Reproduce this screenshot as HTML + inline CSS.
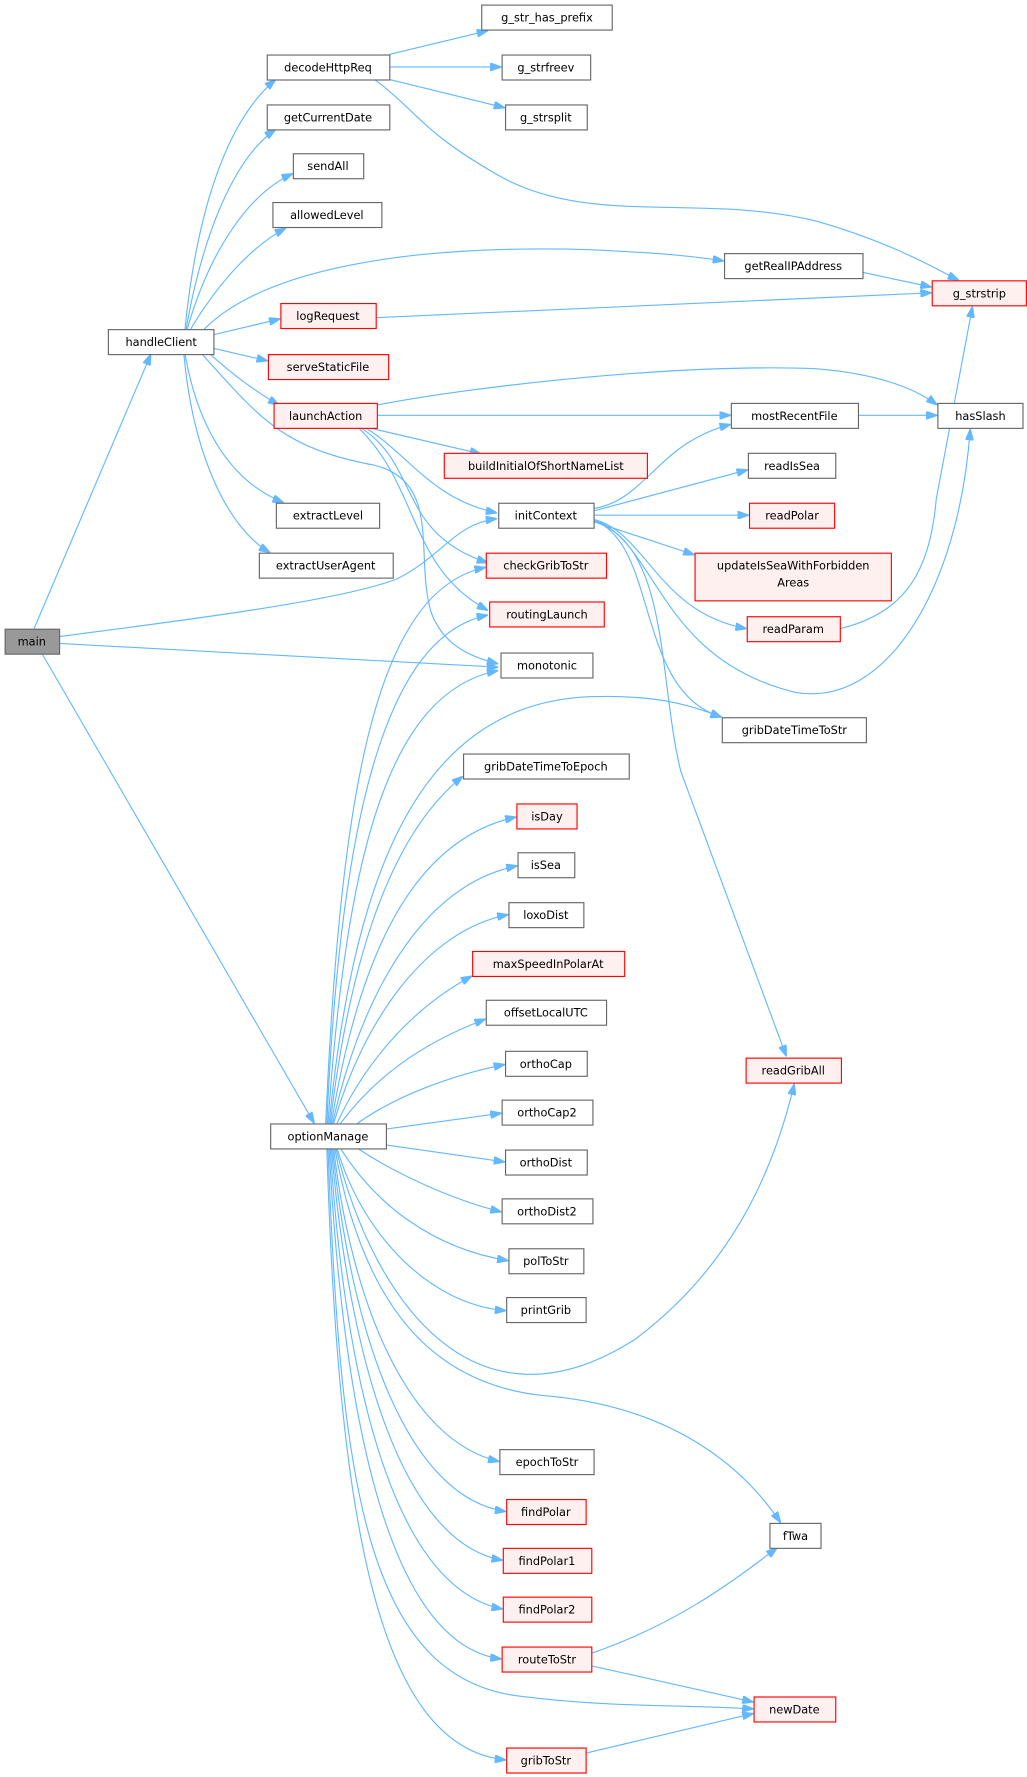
<!DOCTYPE html>
<html><head><meta charset="utf-8"><style>
html,body{margin:0;padding:0;background:#fff;}
svg{display:block;}
text{font-family:"DejaVu Sans","Liberation Sans",sans-serif;font-size:10px;fill:#000;text-anchor:middle;}
.n{fill:#fff;stroke:#666;stroke-width:1;}
.r{fill:#fff0f0;stroke:#ff0000;stroke-width:1;}
.m{fill:#999;stroke:#666;stroke-width:1;}
path.e{fill:none;stroke:#63b8ff;stroke-width:1;marker-end:url(#a);}
</style></head><body>
<svg width="1027" height="1777" viewBox="0 0 905 1566" xmlns="http://www.w3.org/2000/svg">
<defs><marker id="a" markerUnits="userSpaceOnUse" viewBox="0 0 10 7" refX="10" refY="3.5" markerWidth="10" markerHeight="7" orient="auto"><path d="M0,0 L10,3.5 L0,7 z" fill="#63b8ff" stroke="#63b8ff"/></marker></defs>

<!-- edges -->
<path class="e" d="M30,554 L133,312"/>
<path class="e" d="M52,561 C150,548 300,530 350,510 C390,490 400,462 438,457"/>
<path class="e" d="M52,567 L439,588"/>
<path class="e" d="M37,576 L277,990"/>

<path class="e" d="M163,290 C172,200 195,110 243,70"/>
<path class="e" d="M164,290 C178,210 205,140 243,114"/>
<path class="e" d="M165,290 C185,220 220,170 258,153"/>
<path class="e" d="M168,290 C195,245 225,215 252,201"/>
<path class="e" d="M180,290 C230,240 350,215 520,220 C560,222 600,224 638,230"/>
<path class="e" d="M188,295 L247,281"/>
<path class="e" d="M188,307 L236,318"/>
<path class="e" d="M185,312 C205,330 225,345 246,357"/>
<path class="e" d="M163,312 C175,380 205,425 250,443"/>
<path class="e" d="M162,312 C170,400 200,465 238,487"/>
<path class="e" d="M178,312 C230,370 250,395 330,410 C390,425 365,490 380,540 C392,572 420,580 439,585"/>

<path class="e" d="M332,357 C420,340 600,320 720,325 C780,330 810,345 826,357"/>
<path class="e" d="M332,366 L644,366"/>
<path class="e" d="M325,377 L424,400"/>
<path class="e" d="M322,377 C360,400 380,440 438,452"/>
<path class="e" d="M318,377 C370,410 350,470 430,496"/>
<path class="e" d="M316,377 C370,430 360,500 430,538"/>

<path class="e" d="M343,48 L430,27"/>
<path class="e" d="M343,59 L442,59"/>
<path class="e" d="M343,70 L445,95"/>
<path class="e" d="M330,70 C370,100 370,115 440,155 C520,200 620,170 720,195 C790,215 830,240 845,247"/>
<path class="e" d="M331,280 L821,258"/>
<path class="e" d="M760,240 L821,253"/>

<path class="e" d="M524,448 C570,440 580,390 644,374"/>
<path class="e" d="M524,450 L659,414"/>
<path class="e" d="M524,454 L660,454"/>
<path class="e" d="M524,460 L612,489"/>
<path class="e" d="M524,458 C570,470 580,540 658,554"/>
<path class="e" d="M524,458 C580,480 580,580 700,610 C780,625 845,520 855,378"/>
<path class="e" d="M524,459 C580,480 560,610 636,632"/>
<path class="e" d="M524,460 C590,480 580,600 600,680 L693,931"/>
<path class="e" d="M740,554 C800,540 820,500 825,440 L857,270"/>
<path class="e" d="M756,366 L826,366"/>

<!-- optionManage up -->
<path class="e" d="M287,990 C300,700 330,520 428,500"/>
<path class="e" d="M288,990 C300,720 340,560 430,542"/>
<path class="e" d="M289,990 C305,760 340,610 439,591"/>
<path class="e" d="M290,990 C310,790 360,620 520,614 C580,612 610,622 636,632"/>
<path class="e" d="M291,990 C310,830 350,730 408,684"/>
<path class="e" d="M292,990 C315,850 360,740 455,720"/>
<path class="e" d="M293,990 C318,880 370,780 456,763"/>
<path class="e" d="M294,990 C320,900 375,820 448,806"/>
<path class="e" d="M297,990 C320,940 360,890 416,860"/>
<path class="e" d="M300,990 C330,950 370,920 428,898"/>
<path class="e" d="M315,990 C350,965 400,947 445,938"/>
<path class="e" d="M340,995 L442,981"/>
<path class="e" d="M340,1009 L445,1024"/>
<path class="e" d="M315,1012 C350,1035 400,1058 442,1068"/>
<path class="e" d="M300,1012 C330,1060 380,1100 448,1111"/>
<path class="e" d="M297,1012 C320,1090 380,1150 446,1155"/>
<path class="e" d="M296,1012 C330,1150 420,1270 560,1180 C640,1120 680,1040 700,955"/>
<path class="e" d="M295,1012 C320,1150 380,1220 480,1230 C600,1240 660,1300 688,1342"/>
<path class="e" d="M294,1012 C310,1150 360,1270 440,1288"/>
<path class="e" d="M293,1012 C310,1180 360,1320 446,1332"/>
<path class="e" d="M292,1012 C308,1200 355,1360 443,1375"/>
<path class="e" d="M291,1012 C305,1230 350,1400 443,1418"/>
<path class="e" d="M290,1012 C303,1260 345,1450 442,1462"/>
<path class="e" d="M289,1012 C300,1300 320,1480 460,1495 C540,1505 600,1502 664,1506"/>
<path class="e" d="M288,1012 C298,1330 330,1540 446,1551"/>
<path class="e" d="M521,1457 C600,1430 650,1390 685,1364"/>
<path class="e" d="M521,1468 L664,1500"/>
<path class="e" d="M516,1545 L664,1510"/>

<!-- nodes -->
<rect class="m" x="4.5" y="554.5" width="48" height="22"/><text x="28" y="569">main</text>
<rect class="n" x="95.5" y="290.5" width="93" height="22"/><text x="142" y="305">handleClient</text>
<rect class="n" x="238.5" y="990.5" width="102" height="22"/><text x="289" y="1005">optionManage</text>

<rect class="n" x="235.5" y="48.5" width="108" height="22"/><text x="289" y="63">decodeHttpReq</text>
<rect class="n" x="235.5" y="92.5" width="108" height="22"/><text x="289" y="107">getCurrentDate</text>
<rect class="n" x="258.5" y="135.5" width="62" height="22"/><text x="289" y="150">sendAll</text>
<rect class="n" x="240.5" y="178.5" width="96" height="22"/><text x="288" y="193">allowedLevel</text>
<rect class="r" x="247.5" y="267.5" width="84" height="22"/><text x="289" y="282">logRequest</text>
<rect class="r" x="236.5" y="312.5" width="106" height="22"/><text x="289" y="327">serveStaticFile</text>
<rect class="r" x="241.5" y="355.5" width="91" height="22"/><text x="287" y="370">launchAction</text>
<rect class="n" x="243.5" y="443.5" width="91" height="22"/><text x="289" y="458">extractLevel</text>
<rect class="n" x="228.5" y="487.5" width="118" height="22"/><text x="287" y="502">extractUserAgent</text>

<rect class="n" x="424.5" y="4.5" width="115" height="22"/><text x="482" y="19">g_str_has_prefix</text>
<rect class="n" x="442.5" y="48.5" width="78" height="22"/><text x="481" y="63">g_strfreev</text>
<rect class="n" x="445.5" y="92.5" width="72" height="22"/><text x="481" y="107">g_strsplit</text>
<rect class="r" x="391.5" y="399.5" width="179" height="22"/><text x="481" y="414">buildInitialOfShortNameList</text>
<rect class="n" x="439.5" y="443.5" width="84" height="22"/><text x="481" y="458">initContext</text>
<rect class="r" x="428.5" y="487.5" width="106" height="22"/><text x="481" y="502">checkGribToStr</text>
<rect class="r" x="431.5" y="530.5" width="101" height="22"/><text x="482" y="545">routingLaunch</text>
<rect class="n" x="441.5" y="575.5" width="81" height="22"/><text x="482" y="590">monotonic</text>
<rect class="n" x="408.5" y="664.5" width="146" height="22"/><text x="481" y="679">gribDateTimeToEpoch</text>
<rect class="r" x="455.5" y="708.5" width="53" height="22"/><text x="482" y="723">isDay</text>
<rect class="n" x="456.5" y="751.5" width="50" height="22"/><text x="481" y="766">isSea</text>
<rect class="n" x="448.5" y="795.5" width="66" height="22"/><text x="481" y="810">loxoDist</text>
<rect class="r" x="416.5" y="838.5" width="134" height="22"/><text x="483" y="853">maxSpeedInPolarAt</text>
<rect class="n" x="428.5" y="881.5" width="106" height="22"/><text x="481" y="896">offsetLocalUTC</text>
<rect class="n" x="445.5" y="926.5" width="72" height="22"/><text x="481" y="941">orthoCap</text>
<rect class="n" x="442.5" y="969.5" width="80" height="22"/><text x="482" y="984">orthoCap2</text>
<rect class="n" x="445.5" y="1013.5" width="72" height="22"/><text x="481" y="1028">orthoDist</text>
<rect class="n" x="442.5" y="1056.5" width="80" height="22"/><text x="482" y="1071">orthoDist2</text>
<rect class="n" x="448.5" y="1100.5" width="66" height="22"/><text x="481" y="1115">polToStr</text>
<rect class="n" x="446.5" y="1143.5" width="70" height="22"/><text x="481" y="1158">printGrib</text>
<rect class="n" x="440.5" y="1277.5" width="83" height="22"/><text x="482" y="1292">epochToStr</text>
<rect class="r" x="446.5" y="1321.5" width="70" height="22"/><text x="481" y="1336">findPolar</text>
<rect class="r" x="443.5" y="1364.5" width="78" height="22"/><text x="482" y="1379">findPolar1</text>
<rect class="r" x="443.5" y="1407.5" width="78" height="22"/><text x="482" y="1422">findPolar2</text>
<rect class="r" x="442.5" y="1451.5" width="79" height="22"/><text x="482" y="1466">routeToStr</text>
<rect class="r" x="446.5" y="1540.5" width="70" height="22"/><text x="481" y="1555">gribToStr</text>

<rect class="n" x="638.5" y="223.5" width="122" height="22"/><text x="699" y="238">getRealIPAddress</text>
<rect class="n" x="644.5" y="355.5" width="112" height="22"/><text x="700" y="370">mostRecentFile</text>
<rect class="n" x="659.5" y="399.5" width="77" height="22"/><text x="698" y="414">readIsSea</text>
<rect class="r" x="660.5" y="443.5" width="75" height="22"/><text x="698" y="458">readPolar</text>
<rect class="r" x="612.5" y="487.5" width="173" height="42"/><text x="699" y="502">updateIsSeaWithForbidden</text><text x="699" y="517">Areas</text>
<rect class="r" x="658.5" y="543.5" width="82" height="22"/><text x="699" y="558">readParam</text>
<rect class="n" x="636.5" y="632.5" width="127" height="22"/><text x="700" y="647">gribDateTimeToStr</text>
<rect class="r" x="657.5" y="932.5" width="84" height="22"/><text x="699" y="947">readGribAll</text>
<rect class="n" x="678.5" y="1342.5" width="45" height="22"/><text x="701" y="1357">fTwa</text>
<rect class="r" x="664.5" y="1495.5" width="72" height="22"/><text x="700" y="1510">newDate</text>

<rect class="r" x="821.5" y="247.5" width="83" height="22"/><text x="863" y="262">g_strstrip</text>
<rect class="n" x="826.5" y="355.5" width="75" height="22"/><text x="864" y="370">hasSlash</text>
</svg>
</body></html>
